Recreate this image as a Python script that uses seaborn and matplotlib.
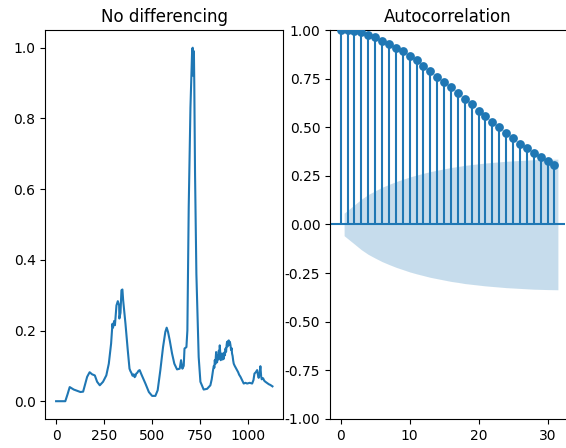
import numpy as np
import pandas as pd
import matplotlib
matplotlib.use("Agg")
import matplotlib.pyplot as plt
import seaborn as sns

# ---- data ----
series_x = [0, 48, 60, 71, 92, 127, 141, 162, 175, 188, 202, 214, 228, 245, 262, 275,
            287, 294, 297, 303, 307, 315, 322, 329, 330, 336, 341, 346, 350, 362, 374,
            383, 388, 393, 399, 405, 410, 414, 418, 423, 430, 436, 445, 466, 484, 501, 518,
            530, 544, 558, 570, 577, 584, 593, 605, 617, 631, 645, 652, 659, 666, 670,
            680, 685, 692, 701, 710, 713, 716, 719, 721, 725, 732, 744, 753, 770, 788,
            805, 812, 819, 823, 826, 828, 831, 835, 838, 840, 843, 846, 849, 852, 854,
            857, 859, 862, 866, 869, 872, 875, 878, 881, 884, 887, 890, 892, 895, 898,
            901, 904, 907, 910, 913, 916, 918, 921, 924, 927, 932, 937, 944, 950, 955,
            962, 970, 979, 988, 997, 1010, 1023, 1030, 1035, 1042, 1049, 1053, 1057,
            1062, 1066, 1070, 1073, 1080, 1086, 1092, 1100, 1106, 1110, 1118, 1124, 1129]
series_y = [0.0, 0.0, 0.02, 0.040, 0.033, 0.026, 0.027, 0.069, 0.082, 0.076, 0.073, 0.055,
            0.045, 0.055, 0.073, 0.106, 0.163, 0.219, 0.208, 0.227, 0.215, 0.271, 0.283,
            0.271, 0.234, 0.250, 0.314, 0.316, 0.285, 0.219, 0.144, 0.092, 0.085, 0.080,
            0.072, 0.076, 0.068, 0.071, 0.078, 0.080, 0.086, 0.088, 0.076, 0.050, 0.026,
            0.015, 0.015, 0.031, 0.088, 0.153, 0.196, 0.208, 0.196, 0.172, 0.135, 0.106,
            0.090, 0.092, 0.116, 0.092, 0.100, 0.149, 0.153, 0.200, 0.549, 0.830, 0.996,
            1.000, 0.920, 0.990, 0.900, 0.643, 0.360, 0.125, 0.055, 0.033, 0.035, 0.045,
            0.062, 0.088, 0.100, 0.095, 0.116, 0.105, 0.139, 0.120, 0.110, 0.130, 0.118,
            0.143, 0.125, 0.158, 0.130, 0.116, 0.130, 0.135, 0.118, 0.128, 0.120, 0.138,
            0.130, 0.149, 0.140, 0.160, 0.168, 0.155, 0.170, 0.172, 0.160, 0.168, 0.158,
            0.145, 0.150, 0.135, 0.128, 0.115, 0.106, 0.100, 0.095, 0.088, 0.082, 0.075,
            0.069, 0.060, 0.050, 0.052, 0.050, 0.052, 0.050, 0.060, 0.078, 0.082, 0.088,
            0.075, 0.066, 0.080, 0.099, 0.070, 0.062, 0.065, 0.058, 0.055, 0.052, 0.050,
            0.048, 0.046, 0.044, 0.042]

lags = list(range(32))
acf_values = [1.000, 0.998, 0.995, 0.990, 0.975, 0.965, 0.945, 0.930, 0.910, 0.890,
              0.865, 0.845, 0.815, 0.790, 0.760, 0.735, 0.705, 0.675, 0.645, 0.620,
              0.585, 0.560, 0.525, 0.500, 0.470, 0.445, 0.415, 0.395, 0.370, 0.345,
              0.325, 0.305]
# half-width of the confidence band at lags 1..31
band_halfwidth = [0.058, 0.101, 0.130, 0.154, 0.173, 0.191, 0.206, 0.220, 0.232, 0.244,
                  0.254, 0.263, 0.272, 0.279, 0.286, 0.293, 0.298, 0.304, 0.308, 0.312,
                  0.316, 0.319, 0.322, 0.325, 0.327, 0.329, 0.331, 0.333, 0.334, 0.335,
                  0.336]

left_title = "No differencing"
right_title = "Autocorrelation"

# ---- figure ----
fig = plt.figure(figsize=(5.66, 4.48), dpi=100)
ax1 = fig.add_axes([0.080, 0.065, 0.4205, 0.868])
ax2 = fig.add_axes([0.583, 0.065, 0.4155, 0.868])

series_df = pd.DataFrame({"x": series_x, "y": series_y})
sns.lineplot(data=series_df, x="x", y="y", ax=ax1, color="C0", linewidth=1.5)
ax1.set_xlabel("")
ax1.set_ylabel("")
ax1.set_title(left_title)
ax1.set_xticks([0, 250, 500, 750, 1000])
ax1.set_yticks([0.0, 0.2, 0.4, 0.6, 0.8, 1.0])

# ACF panel
acf_df = pd.DataFrame({"lag": lags, "acf": acf_values})
ax2.vlines(acf_df["lag"], 0, acf_df["acf"], color="C0", linewidth=1.5)
ax2.axhline(0, color="C0", linewidth=1.5)
sns.scatterplot(data=acf_df, x="lag", y="acf", ax=ax2, color="C0", s=40, linewidth=0,
                zorder=3)
band_x = np.array(lags[1:], dtype=float)
band_x[0] -= 0.5
band_x[-1] += 0.5
hw = np.array(band_halfwidth)
ax2.fill_between(band_x, -hw, hw, color="C0", alpha=0.25, linewidth=0)
ax2.set_xlim(-1.55, 32.55)
ax2.set_ylim(-1, 1)
ax2.set_yticks([-1.0, -0.75, -0.5, -0.25, 0.0, 0.25, 0.5, 0.75, 1.0])
ax2.set_yticklabels([f"{v:.2f}" for v in [-1.0, -0.75, -0.5, -0.25, 0.0, 0.25, 0.5, 0.75, 1.0]])
ax2.set_xticks([0, 10, 20, 30])
ax2.set_xlabel("")
ax2.set_ylabel("")
ax2.set_title(right_title)
ax2.spines["right"].set_visible(False)

fig.savefig("out.png", dpi=100)
